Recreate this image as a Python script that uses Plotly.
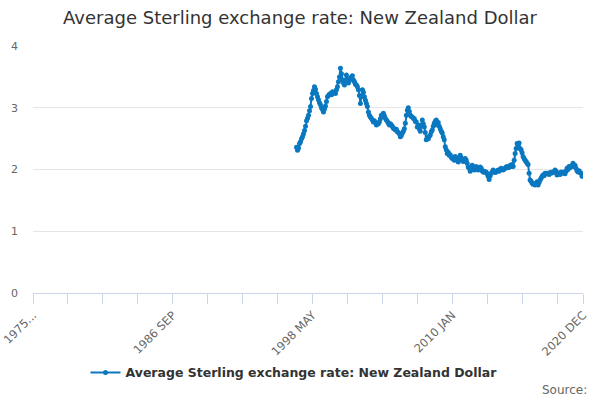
import plotly.graph_objects as go

# monthly categories, 1975 JAN .. 2020 DEC
month_names = ["JAN", "FEB", "MAR", "APR", "MAY", "JUN",
               "JUL", "AUG", "SEP", "OCT", "NOV", "DEC"]
months = [f"{yr} {mn}" for yr in range(1975, 2021) for mn in month_names]

first_month = "1997 JAN"

# GBP -> NZD, monthly average, 1997 JAN .. 2020 DEC (one row per year)
rates = [
    2.36, 2.31, 2.35, 2.42, 2.45, 2.50, 2.53, 2.58, 2.63, 2.70, 2.79, 2.83,  # 1997
    2.88, 2.95, 3.02, 3.15, 3.23, 3.28, 3.34, 3.30, 3.23, 3.18, 3.13, 3.08,  # 1998
    3.05, 3.00, 2.97, 2.93, 2.98, 3.03, 3.10, 3.18, 3.20, 3.22, 3.23, 3.21,  # 1999
    3.26, 3.24, 3.25, 3.23, 3.29, 3.34, 3.42, 3.50, 3.64, 3.55, 3.45, 3.40,  # 2000
    3.37, 3.45, 3.53, 3.46, 3.40, 3.44, 3.48, 3.50, 3.52, 3.45, 3.42, 3.38,  # 2001
    3.37, 3.34, 3.29, 3.20, 3.07, 3.18, 3.29, 3.25, 3.18, 3.12, 3.07, 3.02,  # 2002
    2.93, 2.88, 2.85, 2.83, 2.80, 2.77, 2.79, 2.76, 2.72, 2.75, 2.74, 2.77,  # 2003
    2.82, 2.88, 2.86, 2.91, 2.87, 2.83, 2.80, 2.78, 2.75, 2.72, 2.74, 2.72,  # 2004
    2.70, 2.67, 2.66, 2.64, 2.65, 2.61, 2.60, 2.58, 2.53, 2.55, 2.59, 2.62,  # 2005
    2.66, 2.75, 2.88, 2.96, 3.00, 2.94, 2.88, 2.86, 2.85, 2.83, 2.82, 2.78,  # 2006
    2.77, 2.69, 2.72, 2.66, 2.62, 2.72, 2.80, 2.74, 2.69, 2.60, 2.48, 2.52,  # 2007
    2.50, 2.54, 2.56, 2.61, 2.64, 2.70, 2.75, 2.78, 2.80, 2.72, 2.76, 2.70,  # 2008
    2.66, 2.62, 2.59, 2.53, 2.48, 2.37, 2.32, 2.26, 2.28, 2.23, 2.24, 2.20,  # 2009
    2.18, 2.20, 2.15, 2.21, 2.19, 2.15, 2.12, 2.16, 2.23, 2.19, 2.15, 2.13,  # 2010
    2.14, 2.18, 2.15, 2.10, 2.04, 2.02, 1.97, 2.02, 2.07, 2.04, 1.99, 2.02,  # 2011
    2.05, 2.00, 1.99, 2.01, 2.04, 2.02, 1.98, 1.96, 1.97, 1.95, 1.96, 1.93,  # 2012
    1.89, 1.84, 1.90, 1.94, 1.96, 1.99, 1.97, 1.95, 1.96, 1.98, 1.99, 1.97,  # 2013
    2.00, 2.02, 2.00, 1.99, 2.01, 2.02, 2.04, 2.05, 2.03, 2.04, 2.07, 2.05,  # 2014
    2.08, 2.05, 2.15, 2.26, 2.34, 2.42, 2.40, 2.43, 2.34, 2.32, 2.27, 2.21,  # 2015
    2.18, 2.15, 2.13, 2.10, 2.08, 1.94, 1.83, 1.81, 1.78, 1.76, 1.77, 1.75,  # 2016
    1.77, 1.80, 1.75, 1.79, 1.83, 1.86, 1.89, 1.91, 1.90, 1.94, 1.93, 1.94,  # 2017
    1.93, 1.92, 1.95, 1.94, 1.96, 1.95, 1.96, 1.99, 1.97, 1.91, 1.93, 1.94,  # 2018
    1.92, 1.96, 1.94, 1.95, 1.96, 1.93, 1.97, 2.02, 2.00, 2.05, 2.03, 2.05,  # 2019
    2.06, 2.10, 2.05, 2.07, 2.02, 1.98, 1.96, 1.98, 1.95, 1.94, 1.89, 1.90,  # 2020
]

y_vals = [None] * months.index(first_month) + rates

# ticks every 35 months, labels every 140, plus the last month
tick_idx = list(range(0, len(months), 35)) + [len(months) - 1]
tick_text = []
for i in tick_idx:
    if i == 0:
        tick_text.append("1975...")
    elif i % 140 == 0 or i == len(months) - 1:
        tick_text.append(months[i])
    else:
        tick_text.append("")

blue = "#0a78c0"

fig = go.Figure()
fig.add_trace(go.Scatter(
    x=months, y=y_vals,
    mode="lines+markers",
    name="Average Sterling exchange rate: New Zealand Dollar",
    line=dict(color=blue, width=2),
    marker=dict(color=blue, size=5),
))

fig.update_layout(
    width=600, height=400,
    margin=dict(l=33, r=17, t=46, b=107),
    paper_bgcolor="white", plot_bgcolor="white",
    font=dict(family="DejaVu Sans", color="#666666"),
    title=dict(text="Average Sterling exchange rate: New Zealand Dollar",
               x=0.5, xanchor="center", y=0.955, yanchor="middle",
               font=dict(size=18, color="#333333")),
    showlegend=True,
    legend=dict(orientation="h", xref="container", x=0.49, xanchor="center",
                yref="container", y=0.068, yanchor="middle", itemwidth=30,
                font=dict(size=12.5, color="#333333", weight="bold")),
    annotations=[dict(text="Source:", xref="paper", yref="paper",
                      x=1.011, y=-0.393, xanchor="right", yanchor="middle",
                      showarrow=False, font=dict(size=12, color="#666666"))],
)

fig.update_xaxes(
    type="category", categoryorder="array", categoryarray=months,
    range=[0, len(months) - 1], automargin=False,
    tickmode="array", tickvals=[months[i] for i in tick_idx], ticktext=tick_text,
    tickangle=-45, tickfont=dict(size=11.5, color="#666666"),
    ticks="outside", ticklen=10, tickcolor="#ccd6eb",
    showline=True, linecolor="#ccd6eb", linewidth=1,
    showgrid=False, zeroline=False,
)
fig.update_yaxes(
    range=[0, 4], dtick=1, automargin=False,
    tickfont=dict(size=11, color="#666666"),
    showgrid=True, gridcolor="#e6e6e6", zeroline=False,
    showline=False, ticklabelstandoff=14,
)

# drop the browser's default body margin so the figure sits at the page corner
fig.write_html("out.html", config={"displayModeBar": False},
               post_script="document.body.style.margin = '0px';")
